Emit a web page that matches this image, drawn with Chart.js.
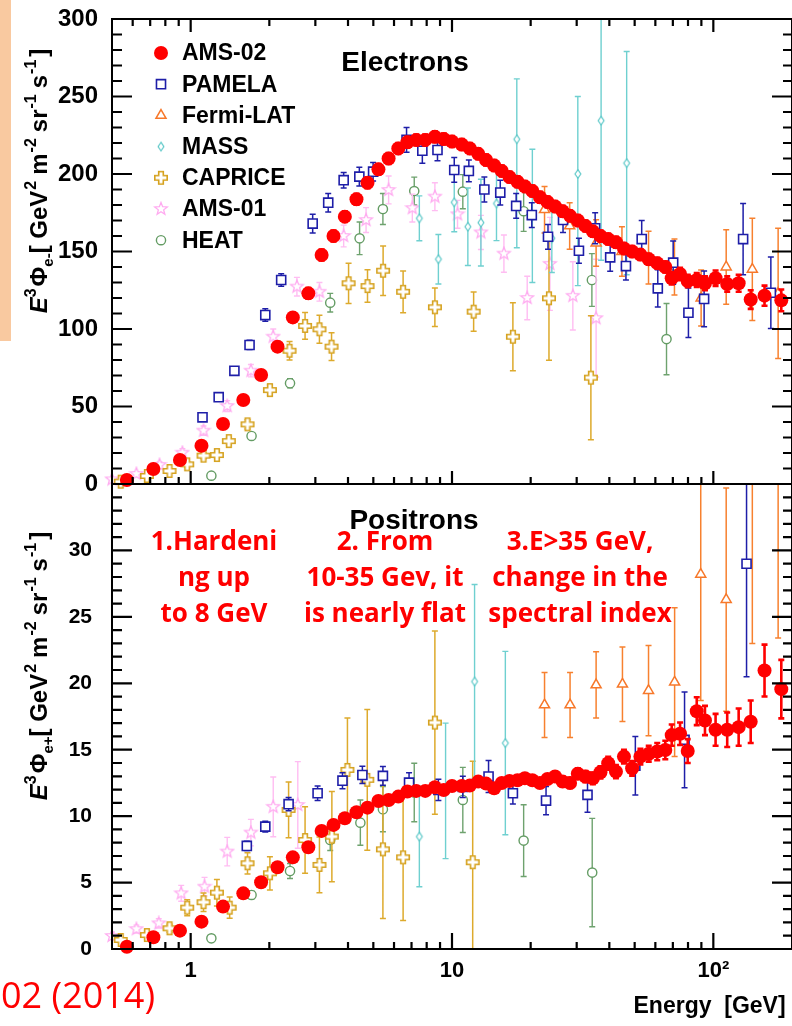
<!DOCTYPE html>
<html>
<head>
<meta charset="utf-8">
<script src="https://cdn.jsdelivr.net/npm/chart.js@4.4.1/dist/chart.umd.min.js"></script>
<style>
html, body { margin: 0; padding: 0; background: #fff; overflow: hidden; }
#wrap { position: relative; width: 792px; height: 1026px; overflow: hidden; }
#tag { position: absolute; left: 0; top: 0; width: 11px; height: 341px; background: #f9c9a0; }
#electrons { position: absolute; left: 0; top: 0; }
#positrons { position: absolute; left: 0; top: 470px; }
</style>
</head>
<body>
<div id="wrap">
  <div id="tag"></div>
  <canvas id="electrons" width="800" height="500"></canvas>
  <canvas id="positrons" width="800" height="556"></canvas>
</div>
<script>
// ---- axis ticks ----
var xTicks = [0.5, 0.6, 0.7, 0.8, 0.9, 1, 2, 3, 4, 5, 6, 7, 8, 9, 10, 20, 30, 40, 50, 60, 70, 80, 90, 100, 200];
var xLabels = {1: '1', 10: '10', 100: '10\u00b2'};

// ---- AMS-02 (same energy bins for e- and e+) ----
var amsE = [0.57, 0.72, 0.91, 1.1, 1.33, 1.59, 1.86, 2.15, 2.46, 2.82,
  3.17, 3.52, 3.89, 4.31, 4.75, 5.23, 5.72, 6.23, 6.75, 7.3,
  7.9, 8.6, 9.3, 10.0, 10.9, 11.7, 12.6, 13.5, 14.5, 15.5,
  16.6, 17.8, 19.0, 20.3, 21.7, 23.2, 24.8, 26.5, 28.3, 30.3,
  32.4, 34.6, 37.0, 39.6, 42.4, 45.5, 48.9, 52.6, 56.6, 61.0,
  65.5, 69.3, 74.6, 79.8, 86.4, 92.9, 102, 113, 125, 139,
  157, 182];
var amsElV = [2.6, 9.7, 15.5, 24.7, 38.7, 54.2, 70.3, 88.6, 107.5, 123,
  147.7, 160, 172.5, 183.7, 194.4, 203, 210, 216.5, 220.5, 222,
  222, 224, 222.6, 221, 219, 216.5, 213, 209, 205.5, 202,
  198, 195, 192, 189, 185, 182, 179, 176, 173, 170,
  166.5, 163, 160, 158, 156, 152, 150, 148, 145, 142.5,
  140, 132.7, 135.5, 131, 131.6, 129.5, 132.7, 129, 129.5, 119,
  121.5, 118.5];
var amsElErr = [1, 1, 1.2, 1.5, 2, 2, 2.5, 3, 3, 3.5,
  3.5, 3.5, 3.5, 3.5, 3.5, 3.5, 3.5, 3.5, 3.5, 3.5,
  3.5, 3.5, 3.5, 3.5, 3.5, 3.5, 3.5, 3.5, 3.5, 3.5,
  3.5, 3.5, 3.5, 3.5, 3.5, 3.5, 3.5, 3.5, 3.5, 3.5,
  3.5, 3.5, 3.5, 3.5, 3.5, 3.5, 3.5, 3.5, 3.5, 3.5,
  3.5, 4, 4, 4, 4.5, 4.5, 5, 5, 5.5, 6,
  6.5, 7];
var amsPosV = [0.17, 0.88, 1.38, 2.06, 3.19, 4.19, 5.02, 6.15, 6.9, 7.66,
  8.89, 9.34, 9.84, 10.29, 10.64, 11.14, 11.22, 11.47, 11.85, 11.9,
  11.9, 12.18, 11.97, 12.27, 12.27, 12.3, 12.6, 12.45, 12.1, 12.5,
  12.65, 12.7, 12.85, 12.7, 12.5, 12.8, 12.98, 12.6, 12.5, 13.2,
  12.98, 12.85, 13.3, 13.98, 13.35, 14.48, 13.6, 14.48, 14.7, 14.86,
  14.98, 16.1, 16.2, 14.9, 17.9, 17.2, 16.5, 16.5, 16.7, 17.1,
  20.96, 19.56];
var amsPosErr = [0.05, 0.05, 0.06, 0.07, 0.08, 0.1, 0.1, 0.1, 0.12, 0.12,
  0.13, 0.13, 0.14, 0.14, 0.15, 0.15, 0.15, 0.16, 0.16, 0.17,
  0.17, 0.18, 0.18, 0.2, 0.2, 0.22, 0.22, 0.24, 0.25, 0.26,
  0.27, 0.28, 0.3, 0.3, 0.32, 0.33, 0.35, 0.36, 0.38, 0.4,
  0.42, 0.44, 0.46, 0.48, 0.5, 0.52, 0.55, 0.58, 0.6, 0.65,
  0.7, 0.8, 0.85, 0.9, 1.05, 1.1, 1.2, 1.3, 1.4, 1.6,
  1.95, 2.2];

// ---- PAMELA ----
var pamElE = [1.11, 1.28, 1.47, 1.68, 1.93, 2.22, 2.93, 3.36, 3.85, 4.42, 4.99, 6.7, 7.7, 8.8, 10.2, 11.6, 13.3,
  15.3, 17.6, 20.2, 23.3, 26.6, 30.6, 35.3, 40.3, 46.3, 53.2, 61.3, 70.2, 80.3, 92.2, 130, 166];
var pamElV = [43, 56, 73, 89.7, 109, 131.6, 168, 181.5, 196, 198.3, 201.5, 222, 215, 215.5, 202.6, 202, 190,
  188, 179.4, 173.5, 159.5, 170.3, 150.5, 165, 146.2, 140.6, 158, 126.2, 142.8, 110.5, 119.4, 158, 123.4];
var pamElErr = [1.5, 1.5, 2, 3, 4, 4, 6, 6, 5, 6, 6, 8, 8, 7, 8, 7, 8,
  8, 8, 8, 8, 8, 8, 10, 9, 9, 12, 12, 14, 16, 18, 23, 23];
var pamPosE = [1.64, 1.93, 2.37, 3.06, 3.81, 4.54, 5.44, 6.85, 8.87, 11.0, 13.8, 17.1, 22.9, 33.0, 50.3, 77.6, 134];
var pamPosV = [7.76, 9.21, 10.9, 11.72, 12.67, 13.1, 13.03, 12.52, 11.97, 12.2, 12.98, 11.72, 11.17, 11.6, 13.8, 15.74, 29];
var pamPosErr = [0.35, 0.4, 0.5, 0.55, 0.6, 0.65, 0.7, 0.75, 0.8, 0.8, 1.2, 0.8, 1.07, 1.3, 2.2, 3.6, 8.5];

// ---- Fermi-LAT ----
var fermiElE = [22.6, 28.2, 35.6, 44.7, 56.5, 71.0, 89.8, 112, 141, 177];
var fermiElV = [177, 166.5, 155.5, 150, 146, 140, 120, 140, 138.5, 123];
var fermiElErr = [15, 15, 15, 16, 17, 18, 18, 24, 33, 42];
var fermiPosE = [22.6, 28.3, 35.6, 44.9, 56.5, 71.1, 89.5, 112, 141, 177];
var fermiPosV = [18.37, 18.37, 19.88, 19.93, 19.45, 20.08, 28.2, 26.3, 37, 40];
var fermiPosErr = [2.45, 2.45, 2.5, 2.8, 3.4, 5.6, 9.5, 8.4, 14, 16.6];

// ---- MASS ----
var massElE = [7.5, 8.87, 10.2, 11.5, 12.9, 14.8, 17.7, 20.3, 24.1, 30.3, 37.2, 46.6];
var massElV = [171.4, 145, 181.7, 166, 168.6, 181, 222.4, 173, 158.5, 200, 234.4, 207];
var massElErr = [14.5, 16, 19, 25, 28, 24, [70, 39], 43, 22, [72, 50], [90, 80], 72];
var massPosE = [7.5, 9.45, 12.2, 16.0];
var massPosV = [8.46, 11.9, 20.13, 15.5];
var massPosErr = [3.77, 5.1, 7.3, 6.9];

// ---- CAPRICE ----
var capElE = [0.54, 0.68, 0.83, 0.97, 1.12, 1.26, 1.40, 1.65, 2.01, 2.39, 2.74, 3.11, 3.46, 4.02, 4.75, 5.45,
  6.5, 8.6, 12.1, 17.1, 23.5, 34];
var capElV = [1.5, 5.2, 8.4, 12.7, 18.3, 18.7, 27.7, 38.5, 60.6, 86, 102, 99.8, 88.6, 129.5, 127.7, 137.6,
  124, 114, 111.2, 95, 119.8, 68.6];
var capElErr = [0.5, 1, 1, 1.5, 2, 2, 2.5, 3, 3.5, 6, 8.6, 9, 9, 13, 10.5, 16,
  13.5, 12.4, 12.6, 22, 40, 40];
var capPosE = [0.54, 0.68, 0.83, 0.97, 1.12, 1.26, 1.41, 1.65, 2.01, 2.37, 2.74, 3.11, 3.47, 3.98, 4.74, 5.44,
  6.5, 8.6, 12.0];
var capPosV = [0.68, 1.05, 1.56, 3.11, 3.52, 4.24, 3.11, 6.45, 5.7, 10.47, 8.2, 6.33, 8.46, 13.48, 12.73, 7.5,
  6.9, 17.04, 6.53];
var capPosErr = [0.2, 0.3, 0.3, 0.6, 0.7, 1.0, 0.8, 0.8, 1.25, 2.1, 2.5, 2.1, 3.4, 3.9, 5.3, 5.2,
  4.75, 6.9, 7.6];

// ---- AMS-01 ----
var ams01ElE = [0.5, 0.62, 0.76, 0.93, 1.12, 1.38, 1.70, 2.07, 2.55, 3.11, 3.85, 4.69, 5.72, 7.05, 8.6,
  10.5, 12.9, 15.8, 19.4, 23.7, 29.0, 35.6];
var ams01ElV = [3, 6.5, 12.3, 20.2, 34.4, 50.3, 73.1, 95, 127.3, 124, 160, 170.3, 189.7, 178, 185.4,
  174, 162.3, 148.6, 120, 142, 121.4, 107];
var ams01ElErr = [1, 1.5, 2, 2.5, 3, 3.5, 4, 5, 6, 6, 7, 8, 9, 9, 9,
  9, 11, 12, 14, 30, 22, 38];
var ams01PosE = [0.5, 0.62, 0.755, 0.92, 1.13, 1.38, 1.70, 2.07, 2.57];
var ams01PosV = [0.98, 1.5, 1.93, 4.19, 4.69, 7.33, 8.76, 10.7, 10.84];
var ams01PosErr = [0.3, 0.3, 0.35, 0.6, 0.7, 1.07, 1.0, 2.25, 3.26];

// ---- HEAT ----
var heatElE = [1.2, 1.71, 2.4, 3.42, 4.43, 5.44, 7.17, 11.0, 18.8, 34.3, 66.2];
var heatElV = [5.4, 31, 65, 117, 158.5, 177.4, 189, 188.6, 176, 131.6, 93.5];
var heatElErr = [0.6, 1.5, 3, 6, 10.5, 10, 9, 11, 13, 17, 23];
var heatPosE = [1.2, 1.71, 2.4, 3.42, 4.46, 5.44, 7.17, 11.0, 18.8, 34.4];
var heatPosV = [0.8, 4.07, 5.87, 8.21, 9.51, 10.52, 11.78, 11.22, 8.16, 5.75];
var heatPosErr = [0.1, 0.3, 0.56, 0.8, 1.7, 1.7, 2.2, 2.45, 2.7, 4.08];

var FONT = '"Liberation Sans", Arial, sans-serif';
Chart.defaults.font.family = FONT;
Chart.defaults.color = '#000';

// hollow marker shapes that Chart.js does not have
function makeMarker(draw) {
  var c = document.createElement('canvas');
  c.width = 16;
  c.height = 16;
  var g = c.getContext('2d');
  g.translate(8, 8);
  draw(g);
  return c;
}
var plusMark = makeMarker(function(g) {
  var a = 2.3, b = 6.2;
  g.beginPath();
  g.moveTo(-a, -b); g.lineTo(a, -b); g.lineTo(a, -a); g.lineTo(b, -a); g.lineTo(b, a); g.lineTo(a, a);
  g.lineTo(a, b); g.lineTo(-a, b); g.lineTo(-a, a); g.lineTo(-b, a); g.lineTo(-b, -a); g.lineTo(-a, -a);
  g.closePath();
  g.fillStyle = '#fff';
  g.fill();
  g.strokeStyle = '#d6a21e';
  g.lineWidth = 1.6;
  g.stroke();
});
var starMark = makeMarker(function(g) {
  g.beginPath();
  for (var i = 0; i < 10; i++) {
    var r = i % 2 ? 2.8 : 6.6, t = -Math.PI / 2 + i * Math.PI / 5;
    g.lineTo(r * Math.cos(t), r * Math.sin(t));
  }
  g.closePath();
  g.fillStyle = '#fff';
  g.fill();
  g.strokeStyle = '#ffaaf0';
  g.lineWidth = 1.3;
  g.stroke();
});
var diamondMark = makeMarker(function(g) {
  g.beginPath();
  g.moveTo(0, -4.3); g.lineTo(2.9, 0); g.lineTo(0, 4.3); g.lineTo(-2.9, 0);
  g.closePath();
  g.fillStyle = '#fff';
  g.fill();
  g.strokeStyle = '#5cc8c8';
  g.lineWidth = 1.2;
  g.stroke();
});

var styles = {
  'AMS-02': {pointStyle: 'circle', pointRadius: 7, pointBackgroundColor: '#ff0000', pointBorderColor: '#ff0000', pointBorderWidth: 0, errColor: '#ff0000', errWidth: 2.6},
  'PAMELA': {pointStyle: 'rect', pointRadius: 6.4, pointBackgroundColor: '#fff', pointBorderColor: '#1e1ea8', pointBorderWidth: 1.6, errColor: '#1e1ea8', errWidth: 1.5},
  'Fermi-LAT': {pointStyle: 'triangle', pointRadius: 5.8, pointBackgroundColor: '#fff', pointBorderColor: '#f7782a', pointBorderWidth: 1.5, errColor: '#f7812f', errWidth: 1.5},
  'MASS': {pointStyle: diamondMark, pointRadius: 4, errColor: '#6fd0d0', errWidth: 1.4},
  'CAPRICE': {pointStyle: plusMark, pointRadius: 6, errColor: '#ddaa2c', errWidth: 1.5},
  'AMS-01': {pointStyle: starMark, pointRadius: 6, errColor: '#ffbdf2', errWidth: 1.4},
  'HEAT': {pointStyle: 'circle', pointRadius: 4.6, pointBackgroundColor: '#fff', pointBorderColor: '#649c64', pointBorderWidth: 1.4, errColor: '#6ea26e', errWidth: 1.4}
};
var names = ['AMS-02', 'PAMELA', 'Fermi-LAT', 'MASS', 'CAPRICE', 'AMS-01', 'HEAT'];

function series(label, xs, ys, errs) {
  return Object.assign({
    label: label,
    data: xs.map(function(x, i) { return {x: x, y: ys[i]}; }),
    err: errs,
    showLine: false,
    clip: 8
  }, styles[label]);
}

// vertical error bars, drawn under each dataset's own markers
var errorBars = {
  id: 'errorBars',
  beforeDatasetDraw: function(chart, args) {
    var ds = chart.data.datasets[args.index];
    if (!ds.err) return;
    var ctx = chart.ctx, a = chart.chartArea, ys = chart.scales.y, cap = 3;
    ctx.save();
    ctx.beginPath();
    ctx.rect(a.left, a.top, a.right - a.left, a.bottom - a.top);
    ctx.clip();
    ctx.strokeStyle = ds.errColor;
    ctx.lineWidth = ds.errWidth;
    ctx.beginPath();
    args.meta.data.forEach(function(pt, i) {
      var e = ds.err[i];
      var lo = Array.isArray(e) ? e[0] : e, hi = Array.isArray(e) ? e[1] : e;
      var v = ds.data[i].y;
      var y1 = ys.getPixelForValue(v + hi), y2 = ys.getPixelForValue(v - lo);
      ctx.moveTo(pt.x, y1); ctx.lineTo(pt.x, y2);
      ctx.moveTo(pt.x - cap, y1); ctx.lineTo(pt.x + cap, y1);
      ctx.moveTo(pt.x - cap, y2); ctx.lineTo(pt.x + cap, y2);
    });
    ctx.stroke();
    ctx.restore();
  }
};

// box with inward tick marks
function isDecade(v) {
  var l = Math.log10(v);
  return Math.abs(l - Math.round(l)) < 1e-9;
}
var frame = {
  id: 'frame',
  afterDatasetsDraw: function(chart, args, opts) {
    var ctx = chart.ctx, a = chart.chartArea, xs = chart.scales.x, ys = chart.scales.y;
    ctx.save();
    ctx.strokeStyle = '#000';
    ctx.lineWidth = 2;
    ctx.strokeRect(a.left, a.top, a.right - a.left, a.bottom - a.top);
    ctx.lineWidth = 2.2;
    ctx.beginPath();
    xs.ticks.forEach(function(t) {
      var px = xs.getPixelForValue(t.value);
      if (px < a.left + 1 || px > a.right - 1) return;
      var big = isDecade(t.value);
      if (opts.top) { ctx.moveTo(px, a.top); ctx.lineTo(px, a.top + (big ? 13 : 7)); }
      if (opts.bottom) { ctx.moveTo(px, a.bottom); ctx.lineTo(px, a.bottom - (big ? opts.xMajor : 7)); }
    });
    ys.ticks.forEach(function(t) {
      var py = ys.getPixelForValue(t.value);
      if (py < a.top + 1 || py > a.bottom - 1) return;
      var big = t.value % opts.yMajor === 0;
      ctx.moveTo(a.left, py); ctx.lineTo(a.left + (big ? 20 : 10), py);
      ctx.moveTo(a.right, py); ctx.lineTo(a.right - (big ? 20 : 9), py);
    });
    ctx.stroke();
    ctx.restore();
  }
};

// rotated y title with super/subscripts
function drawYTitle(ctx, cy, bx, sub) {
  var big = 'bold 24px ' + FONT, sm = 'bold 16px ' + FONT;
  var parts = [
    ['E', 'italic bold 24px ' + FONT, 0, 0],
    ['3', sm, -11, 2],
    ['\u03a6', big, 0, 0],
    [sub, 'bold 15px ' + FONT, 6, 0],
    ['[ GeV', big, 0, 1],
    ['2', sm, -11, 6],
    ['m', big, 0, 1],
    ['-2', sm, -11, 6],
    ['sr', big, 0, 1],
    ['-1', sm, -11, 6],
    ['s', big, 0, 1],
    ['-1', sm, -11, 3],
    [']', big, 0, 0]
  ];
  var total = 0;
  parts.forEach(function(p) { ctx.font = p[1]; total += ctx.measureText(p[0]).width + p[3]; });
  ctx.save();
  ctx.translate(bx, cy);
  ctx.rotate(-Math.PI / 2);
  ctx.fillStyle = '#000';
  ctx.textBaseline = 'alphabetic';
  ctx.textAlign = 'left';
  var x = -total / 2;
  parts.forEach(function(p) {
    ctx.font = p[1];
    ctx.fillText(p[0], x, p[2]);
    x += ctx.measureText(p[0]).width + p[3];
  });
  ctx.restore();
}

var electronDeco = {
  id: 'electronDeco',
  afterDraw: function(chart) {
    var ctx = chart.ctx;
    ctx.save();
    // legend
    names.forEach(function(n, i) {
      var st = styles[n], y = 53 + i * 31.2;
      ctx.fillStyle = st.pointBackgroundColor || '#fff';
      ctx.strokeStyle = st.pointBorderColor || '#000';
      ctx.lineWidth = st.pointBorderWidth || 1;
      Chart.helpers.drawPoint(ctx, {pointStyle: st.pointStyle, radius: st.pointRadius, rotation: 0, borderWidth: st.pointBorderWidth || 0}, 161, y);
      ctx.fillStyle = '#000';
      ctx.font = 'bold 23px ' + FONT;
      ctx.textAlign = 'left';
      ctx.textBaseline = 'middle';
      ctx.fillText(n, 182, y + 1);
    });
    ctx.font = 'bold 28px ' + FONT;
    ctx.textAlign = 'center';
    ctx.textBaseline = 'alphabetic';
    ctx.fillText('Electrons', 405, 71);
    ctx.restore();
    drawYTitle(ctx, 181, 47, 'e-');
  }
};

var positronDeco = {
  id: 'positronDeco',
  afterDraw: function(chart) {
    var ctx = chart.ctx;
    ctx.save();
    ctx.fillStyle = '#000';
    ctx.font = 'bold 28px ' + FONT;
    ctx.textAlign = 'center';
    ctx.textBaseline = 'alphabetic';
    ctx.fillText('Positrons', 414, 59);
    ctx.fillStyle = '#ff0000';
    ctx.font = 'bold 26px "Open Sans", sans-serif';
    var notes = [
      [214, ['1.Hardeni', 'ng up', 'to 8 GeV']],
      [385, ['2. From', '10-35 Gev, it', 'is nearly flat']],
      [580, ['3.E>35 GeV,', 'change in the', 'spectral index']]
    ];
    notes.forEach(function(n) {
      n[1].forEach(function(line, j) { ctx.fillText(line, n[0], 80 + j * 36); });
    });
    ctx.font = '36px "Open Sans", sans-serif';
    ctx.textAlign = 'right';
    ctx.fillText('02 (2014)', 155, 538);
    ctx.restore();
    drawYTitle(ctx, 196, 47, 'e+');
  }
};

function noEdgePadding(axis) {
  axis.paddingTop = 0;
  axis.paddingBottom = 0;
  axis.paddingLeft = 0;
  axis.paddingRight = 0;
}

function xScale(showLabels) {
  return {
    type: 'logarithmic',
    min: 0.5,
    max: 200,
    grid: {display: false},
    border: {display: false},
    afterBuildTicks: function(axis) {
      axis.ticks = xTicks.map(function(v) { return {value: v}; });
    },
    ticks: {
      display: showLabels,
      autoSkip: false,
      maxRotation: 0,
      padding: 1,
      color: '#000',
      font: {size: 22, weight: 'bold'},
      callback: function(v) { return xLabels[v] || ''; }
    },
    title: {
      display: showLabels,
      text: 'Energy  [GeV] ',
      align: 'end',
      color: '#000',
      font: {size: 23, weight: 'bold'},
      padding: {top: 0, bottom: 6}
    },
    afterFit: function(axis) {
      axis.height = showLabels ? 77 : 0;
      noEdgePadding(axis);
    }
  };
}

function yScale(max, step, every, skip, size, pad) {
  return {
    type: 'linear',
    min: 0,
    max: max,
    grid: {display: false},
    border: {display: false},
    ticks: {
      stepSize: step,
      autoSkip: false,
      padding: pad,
      color: '#000',
      font: {size: size, weight: 'bold'},
      callback: function(v) { return (v % every === 0 && v !== skip) ? String(v) : ''; }
    },
    afterFit: function(axis) {
      axis.width = 112;
      noEdgePadding(axis);
    }
  };
}

var common = {
  responsive: false,
  animation: false,
  events: [],
  plugins: {legend: {display: false}, tooltip: {enabled: false}}
};

new Chart(document.getElementById('electrons'), {
  type: 'scatter',
  data: {
    datasets: [
      series('AMS-02', amsE, amsElV, amsElErr),
      series('PAMELA', pamElE, pamElV, pamElErr),
      series('Fermi-LAT', fermiElE, fermiElV, fermiElErr),
      series('MASS', massElE, massElV, massElErr),
      series('CAPRICE', capElE, capElV, capElErr),
      series('AMS-01', ams01ElE, ams01ElV, ams01ElErr),
      series('HEAT', heatElE, heatElV, heatElErr)
    ]
  },
  options: Object.assign({}, common, {
    layout: {padding: {top: 19, right: 7, bottom: 16, left: 0}},
    scales: {x: xScale(false), y: yScale(300, 10, 50, null, 24, 6)},
    plugins: Object.assign({}, common.plugins, {frame: {top: true, bottom: true, xMajor: 13, yMajor: 50}})
  }),
  plugins: [errorBars, frame, electronDeco]
});

new Chart(document.getElementById('positrons'), {
  type: 'scatter',
  data: {
    datasets: [
      series('AMS-02', amsE, amsPosV, amsPosErr),
      series('PAMELA', pamPosE, pamPosV, pamPosErr),
      series('Fermi-LAT', fermiPosE, fermiPosV, fermiPosErr),
      series('MASS', massPosE, massPosV, massPosErr),
      series('CAPRICE', capPosE, capPosV, capPosErr),
      series('AMS-01', ams01PosE, ams01PosV, ams01PosErr),
      series('HEAT', heatPosE, heatPosV, heatPosErr)
    ]
  },
  options: Object.assign({}, common, {
    layout: {padding: {top: 14, right: 7, bottom: 0, left: 0}},
    scales: {x: xScale(true), y: yScale(35, 1, 5, 35, 21, 12)},
    plugins: Object.assign({}, common.plugins, {frame: {top: false, bottom: true, xMajor: 16, yMajor: 5}})
  }),
  plugins: [errorBars, frame, positronDeco]
});
</script>
</body>
</html>
